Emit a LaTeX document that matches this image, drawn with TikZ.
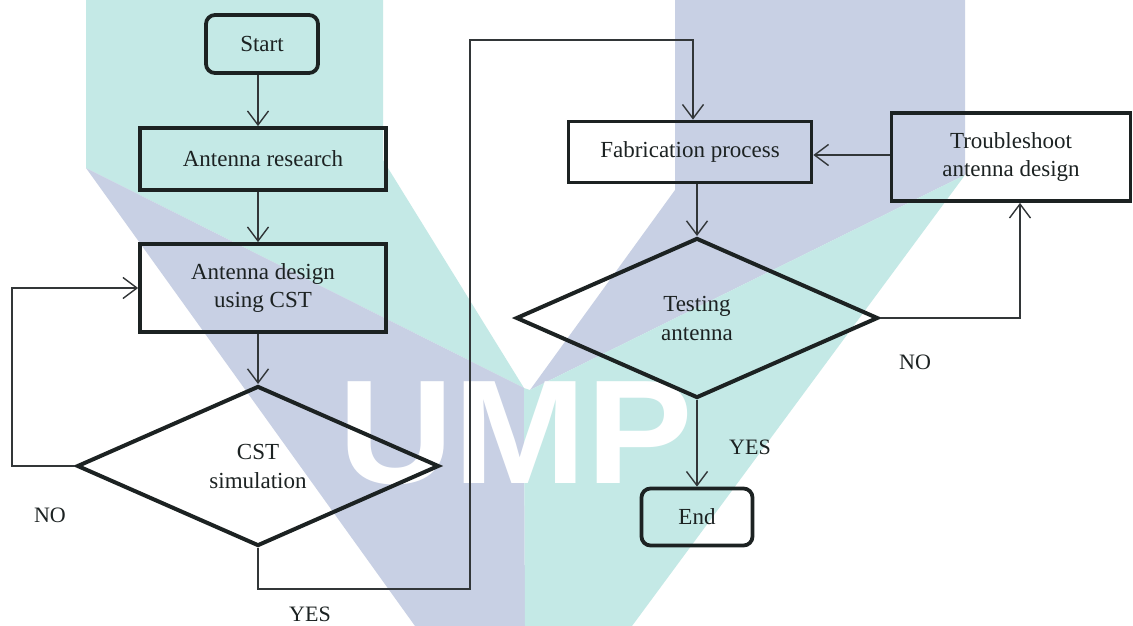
\documentclass[tikz,border=0pt]{standalone}
\usepackage{fontspec}
\usepackage{graphicx}
\setmainfont{Liberation Serif}
\newfontfamily\wmfont{Liberation Sans}
\usetikzlibrary{arrows.meta,shapes.geometric}
\definecolor{wteal}{RGB}{196,233,230}
\definecolor{wlav}{RGB}{200,208,228}
\definecolor{ink}{RGB}{28,34,34}
\definecolor{lineink}{RGB}{50,54,56}
\tikzset{
  box/.style={draw=ink, line width=3.8pt, rectangle, inner sep=0pt, align=center,
    text=ink, font=\fontsize{23}{28}\selectfont},
  term/.style={box, rounded corners=9pt},
  dec/.style={draw=ink, line width=4pt, diamond, aspect=2.26, minimum width=362pt,
    minimum height=160pt, inner sep=0pt, align=center, text=ink,
    font=\fontsize{23}{29}\selectfont},
  conn/.style={draw=lineink, line width=1.4pt,
    -{Straight Barb[length=14pt,width=21pt,line width=1.4pt]}},
  lbl/.style={text=ink, inner sep=0pt, font=\fontsize{22}{26}\selectfont}
}
\begin{document}
\begin{tikzpicture}[x=1pt,y=-1pt]
\useasboundingbox (0,0) rectangle (1133,626);
\fill[white] (0,0) rectangle (1133,626);
% watermark
\fill[wteal] (86,0) -- (383,0) -- (383,160) -- (524,388) -- (86,168) -- cycle;
\fill[wlav] (86,168) -- (524,388) -- (525,626) -- (415,626) -- cycle;
\fill[wlav] (675,0) -- (965,0) -- (965,175) -- (530,390) -- (675,190) -- cycle;
\fill[wteal] (965,175) -- (632,626) -- (525,626) -- (524,388) -- (530,390) -- cycle;
\node[anchor=base west, text=white, inner sep=0pt,
  font=\wmfont\bfseries\fontsize{148}{148}\selectfont] (wm) at (338,483) {\scalebox{1.08}[1]{UMP}};
% nodes
\node[term, minimum width=112pt, minimum height=58pt] (start) at (262,44) {Start};
\node[box, minimum width=246pt, minimum height=62pt] (research) at (263,159) {Antenna research};
\node[box, minimum width=246pt, minimum height=88pt] (design) at (263,288) {Antenna design\\using CST};
\node[dec] (cst) at (258,466) {CST\\simulation};
\node[box, minimum width=243pt, minimum height=61pt] (fab) at (690,152) {Fabrication process};
\node[box, minimum width=239pt, minimum height=88pt] (trouble) at (1011,157) {Troubleshoot\\antenna design};
\node[dec] (test) at (697,318) {Testing\\antenna};
\node[term, minimum width=111pt, minimum height=57pt] (end) at (697,517) {End};
% helper coordinates
\coordinate (xa) at (258,0);
\coordinate (loopL) at (12,0);
\coordinate (yb) at (0,589);
\coordinate (yx) at (470,40);
\coordinate (fabin) at (693,0);
\coordinate (tx) at (1020,0);
\coordinate (ty) at (0,155);
% connectors
\draw[conn] (start.south -| xa) -- (research.north -| xa);
\draw[conn] (research.south -| xa) -- (design.north -| xa);
\draw[conn] (design.south -| xa) -- (cst.north);
\draw[conn] (cst.west) -- (cst.west -| loopL) -- (design.west -| loopL) -- (design.west);
\draw[conn] (cst.south) -- (cst.south |- yb) -- (yx |- yb) -- (yx) -- (yx -| fabin) -- (fab.north -| fabin);
\draw[conn] (fab.south -| test.north) -- (test.north);
\draw[conn] (test.east) -- (test.east -| tx) -- (trouble.south -| tx);
\draw[conn] (trouble.west |- ty) -- (fab.east |- ty);
\draw[conn] (test.south) -- (end.north);
% labels
\node[lbl] (no1) at (50,515) {NO};
\node[lbl] (yes1) at (310,614) {YES};
\node[lbl] (no2) at (915,362) {NO};
\node[lbl] (yes2) at (750,447) {YES};
\end{tikzpicture}
\end{document}
